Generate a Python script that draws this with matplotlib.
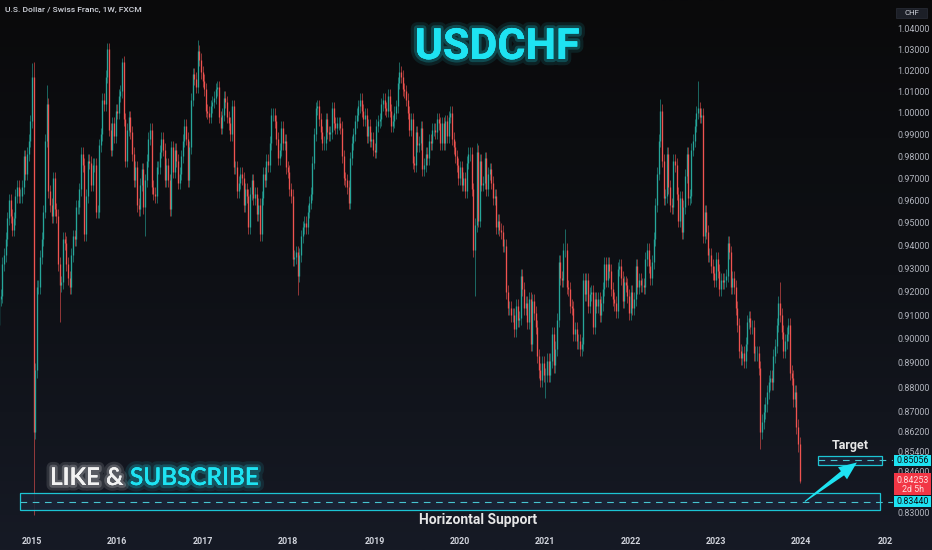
import numpy as np
import pandas as pd
import matplotlib
matplotlib.use('Agg')
import matplotlib.pyplot as plt
import matplotlib.dates as mdates
from matplotlib import patheffects as pe
from matplotlib.colors import LinearSegmentedColormap
from matplotlib.patches import Rectangle, Polygon
from matplotlib.ticker import FixedLocator, FuncFormatter, NullLocator
from matplotlib.transforms import (blended_transform_factory, Bbox,
                                   TransformedBbox, IdentityTransform)

# ---- data: USDCHF weekly closes, bars start on Mondays ----
first_week = '2014-08-11'
first_open = 0.8990

close_2014 = [0.9060, 0.9170, 0.9180, 0.9320, 0.9360, 0.9430, 0.9520, 0.9600,
              0.9530, 0.9470, 0.9520, 0.9620, 0.9660, 0.9620, 0.9620, 0.9660,
              0.9800, 0.9720, 0.9810, 0.9870, 0.9960]
close_2015 = [1.0170, 0.8620, 0.8870, 0.9220, 0.9220, 0.9350, 0.9430, 0.9550,
              0.9870, 1.0040, 0.9640, 0.9580, 0.9530, 0.9700, 0.9560, 0.9530,
              0.9320, 0.9230, 0.9240, 0.9430, 0.9410, 0.9320, 0.9260, 0.9220,
              0.9360, 0.9440, 0.9430, 0.9570, 0.9570, 0.9650, 0.9810, 0.9760,
              0.9450, 0.9620, 0.9780, 0.9770, 0.9670, 0.9760, 0.9760, 0.9550,
              0.9550, 0.9850, 0.9900, 1.0060, 1.0040, 1.0170, 1.0300, 0.9920,
              0.9830, 0.9950, 0.9890, 1.0010]
close_2016 = [1.0000, 1.0080, 1.0100, 1.0240, 0.9970, 0.9780, 0.9920, 0.9980,
              0.9910, 0.9810, 0.9690, 0.9750, 0.9580, 0.9560, 0.9670, 0.9740,
              0.9570, 0.9690, 0.9780, 0.9880, 0.9920, 0.9660, 0.9630, 0.9620,
              0.9750, 0.9750, 0.9820, 0.9880, 0.9830, 0.9690, 0.9760, 0.9690,
              0.9560, 0.9840, 0.9730, 0.9830, 0.9780, 0.9680, 0.9720, 0.9800,
              0.9870, 0.9940, 0.9880, 0.9690, 0.9840, 1.0060, 1.0180, 1.0160,
              1.0120, 1.0290, 1.0250, 1.0190]
close_2017 = [1.0150, 1.0110, 1.0010, 1.0000, 0.9980, 1.0030, 1.0050, 1.0070,
              1.0110, 1.0120, 0.9980, 0.9930, 0.9990, 1.0070, 1.0050, 0.9980,
              0.9950, 0.9900, 1.0030, 0.9750, 0.9750, 0.9640, 0.9680, 0.9720,
              0.9700, 0.9580, 0.9650, 0.9620, 0.9480, 0.9630, 0.9690, 0.9610,
              0.9630, 0.9540, 0.9580, 0.9450, 0.9610, 0.9720, 0.9690, 0.9780,
              0.9760, 0.9860, 0.9990, 0.9990, 0.9960, 0.9880, 0.9790, 0.9830,
              0.9930, 0.9860, 0.9870, 0.9750]
close_2018 = [0.9730, 0.9650, 0.9620, 0.9340, 0.9350, 0.9370, 0.9270, 0.9360,
              0.9440, 0.9480, 0.9500, 0.9480, 0.9550, 0.9590, 0.9630, 0.9770,
              0.9900, 1.0020, 1.0030, 0.9970, 0.9910, 0.9860, 0.9860, 0.9970,
              0.9910, 0.9900, 0.9910, 1.0020, 0.9950, 0.9930, 0.9950, 0.9950,
              0.9930, 0.9800, 0.9700, 0.9690, 0.9660, 0.9590, 0.9790, 0.9860,
              0.9900, 0.9960, 0.9990, 1.0030, 1.0060, 1.0010, 0.9970, 0.9990,
              0.9890, 0.9940, 0.9870, 0.9880, 0.9830]
close_2019 = [0.9820, 0.9940, 0.9960, 0.9970, 1.0040, 1.0060, 1.0020, 1.0010,
              1.0080, 1.0010, 0.9940, 0.9960, 1.0000, 1.0030, 1.0140, 1.0190,
              1.0170, 1.0110, 1.0100, 1.0060, 1.0000, 0.9920, 0.9970, 0.9770,
              0.9760, 0.9910, 0.9850, 0.9860, 0.9930, 0.9740, 0.9760, 0.9810,
              0.9790, 0.9870, 0.9860, 0.9920, 0.9920, 0.9910, 0.9970, 0.9950,
              0.9860, 0.9950, 0.9860, 0.9960, 0.9890, 0.9980, 1.0000, 0.9880,
              0.9840, 0.9800, 0.9760, 0.9700]
close_2020 = [0.9750, 0.9670, 0.9700, 0.9640, 0.9770, 0.9810, 0.9810, 0.9650,
              0.9380, 0.9490, 0.9820, 0.9510, 0.9780, 0.9670, 0.9680, 0.9790,
              0.9650, 0.9720, 0.9740, 0.9680, 0.9610, 0.9620, 0.9480, 0.9510,
              0.9470, 0.9460, 0.9400, 0.9400, 0.9200, 0.9130, 0.9130, 0.9100,
              0.9100, 0.9040, 0.9140, 0.9080, 0.9090, 0.9270, 0.9210, 0.9130,
              0.9150, 0.9070, 0.9170, 0.8980, 0.9160, 0.9110, 0.9050, 0.8930,
              0.8870, 0.8830, 0.8900, 0.8850]
close_2021 = [0.8850, 0.8910, 0.8850, 0.8910, 0.9020, 0.8890, 0.8960, 0.9080,
              0.9330, 0.9260, 0.9250, 0.9380, 0.9380, 0.9220, 0.9210, 0.9140,
              0.9130, 0.9020, 0.9040, 0.8990, 0.8990, 0.8960, 0.8980, 0.9250,
              0.9190, 0.9250, 0.9140, 0.9190, 0.9200, 0.9050, 0.9170, 0.9140,
              0.9170, 0.9100, 0.9150, 0.9210, 0.9320, 0.9250, 0.9320, 0.9290,
              0.9210, 0.9170, 0.9150, 0.9120, 0.9300, 0.9310, 0.9260, 0.9160,
              0.9240, 0.9230, 0.9180, 0.9110]
close_2022 = [0.9200, 0.9130, 0.9170, 0.9310, 0.9220, 0.9250, 0.9230, 0.9230,
              0.9220, 0.9340, 0.9380, 0.9310, 0.9260, 0.9330, 0.9430, 0.9580,
              0.9720, 0.9870, 1.0010, 0.9780, 0.9610, 0.9620, 0.9810, 0.9660,
              0.9580, 0.9570, 0.9780, 0.9760, 0.9630, 0.9510, 0.9610, 0.9460,
              0.9570, 0.9710, 0.9810, 0.9610, 0.9620, 0.9830, 0.9870, 0.9940,
              1.0000, 1.0020, 0.9980, 0.9990, 0.9440, 0.9550, 0.9460, 0.9360,
              0.9360, 0.9310, 0.9280, 0.9250]
close_2023 = [0.9340, 0.9290, 0.9210, 0.9250, 0.9240, 0.9250, 0.9270, 0.9410,
              0.9370, 0.9220, 0.9260, 0.9220, 0.9130, 0.9060, 0.8950, 0.8920,
              0.8940, 0.8910, 0.8980, 0.9070, 0.9090, 0.9050, 0.9050, 0.8940,
              0.8940, 0.8940, 0.8880, 0.8620, 0.8660, 0.8700, 0.8730, 0.8780,
              0.8820, 0.8840, 0.8820, 0.8930, 0.8970, 0.9060, 0.9150, 0.9100,
              0.9030, 0.8950, 0.8990, 0.9020, 0.9060, 0.8860, 0.8840, 0.8750,
              0.8780, 0.8640, 0.8570, 0.8425]

closes = (close_2014 + close_2015 + close_2016 + close_2017 + close_2018 +
          close_2019 + close_2020 + close_2021 + close_2022 + close_2023)

# notable wick extremes
wick_highs = {'2015-01-05': 1.0235, '2015-01-12': 1.0240, '2015-03-09': 1.0128,
              '2015-11-23': 1.0328, '2016-01-25': 1.0257, '2016-12-12': 1.0344,
              '2019-04-22': 1.0237, '2020-03-16': 0.9860, '2021-03-29': 0.9473,
              '2022-05-09': 1.0064, '2022-10-17': 1.0148, '2023-10-02': 0.9244}
wick_lows = {'2015-01-12': 0.8290, '2015-05-04': 0.9072, '2016-05-02': 0.9444,
             '2018-02-12': 0.9187, '2020-03-09': 0.9182, '2021-01-04': 0.8757,
             '2023-07-10': 0.8552, '2023-12-25': 0.8415}
wick_pad = 0.003

price_ticks = [1.04, 1.03, 1.02, 1.01, 1.00, 0.99, 0.98, 0.97, 0.96, 0.95,
               0.94, 0.93, 0.92, 0.91, 0.90, 0.89, 0.88, 0.87, 0.862, 0.854,
               0.846, 0.83]
year_labels = list(range(2015, 2026))

support_price = 0.83440
support_band = (0.8311, 0.8377)
support_span = ('2014-11-15', '2024-12-03')
support_label_at = '2020-03-22'
target_price = 0.85056
target_band = (0.8487, 0.8522)
target_span = ('2024-03-12', '2024-12-10')
arrow_from = ('2024-01-16', 0.8344)
arrow_to = ('2024-08-25', 0.8497)
last_price = 0.84253
countdown = '2d 5h'

# ---- style ----
UP = '#26a69a'
DOWN = '#ef5350'
CYAN = '#1ee3f2'
TXT = '#b2b5be'
W, H = 932, 550
SCALE_FS = 6.4

fig = plt.figure(figsize=(W / 100, H / 100), dpi=100)

bg = fig.add_axes([0, 0, 1, 1], zorder=-1)
cmap = LinearSegmentedColormap.from_list('bg', ['#0a0a0b', '#0e1015', '#161a25'])
bg.imshow(np.linspace(0, 1, 256)[:, None], cmap=cmap, aspect='auto', extent=[0, 1, 0, 1])
bg.axis('off')

ax = fig.add_axes([0, 20 / H, 893 / W, 530 / H])
ax.set_facecolor('none')
for s in ax.spines.values():
    s.set_visible(False)

dates = pd.date_range(first_week, periods=len(closes), freq='W-MON')
x = mdates.date2num(dates)
opens = [first_open] + closes[:-1]
highs, lows, cols = [], [], []
for d, o, c in zip(dates, opens, closes):
    k = d.strftime('%Y-%m-%d')
    highs.append(wick_highs.get(k, max(o, c) + wick_pad))
    lows.append(wick_lows.get(k, min(o, c) - wick_pad))
    cols.append(UP if c >= o else DOWN)
body_lo = np.minimum(opens, closes)
body_hi = np.maximum(opens, closes)

ax.vlines(x, lows, highs, colors=cols, lw=0.55, alpha=0.75, zorder=2)
ax.vlines(x, body_lo, body_hi, colors=cols, lw=0.95, zorder=3)

ax.set_yscale('log')
ax.set_ylim(0.8234, 1.0539)
ax.set_xlim(mdates.date2num(pd.Timestamp('2014-08-22')),
            mdates.date2num(pd.Timestamp('2025-01-26')))
ax.yaxis.set_major_locator(FixedLocator(price_ticks))
ax.yaxis.set_minor_locator(NullLocator())
ax.yaxis.set_major_formatter(FuncFormatter(lambda v, _: f'{v:.5f}'))
ax.yaxis.tick_right()
ax.tick_params(axis='y', length=0, pad=3.2, labelsize=SCALE_FS, labelcolor=TXT)
for lbl in ax.get_yticklabels():
    lbl.set_family('Roboto')
ax.set_xticks([])

# year labels on the time axis, clipped by the price scale
clip = TransformedBbox(Bbox.from_bounds(0, 0, 893 / W, 1), fig.transFigure)
xt = blended_transform_factory(ax.transData, fig.transFigure)
for yr in year_labels:
    d0 = pd.date_range(f'{yr}-01-01', periods=1, freq='W-MON')[0]
    t = fig.text(mdates.date2num(d0), 1 - 541.5 / H, str(yr), transform=xt,
                 ha='center', va='center', fontsize=SCALE_FS, weight='bold',
                 family='Roboto', color='#d1d4dc')
    t.set_clip_box(clip)
    t.set_clip_on(True)

# ---- drawings ----
def band(span, lohi):
    x0, x1 = (mdates.date2num(pd.Timestamp(s)) for s in span)
    ax.add_patch(Rectangle((x0, lohi[0]), x1 - x0, lohi[1] - lohi[0],
                           fc='#1a2438', ec=CYAN, lw=0.9, alpha=0.85, zorder=4))
    return x0, x1

sx0, sx1 = band(support_span, support_band)
tx0, tx1 = band(target_span, target_band)
xmax = ax.get_xlim()[1]
for x0, p in [(sx0, support_price), (tx0, target_price)]:
    ax.plot([x0, xmax], [p, p], color='#47c4d0', lw=0.8, dashes=(6, 5), zorder=5)

ax.annotate('Horizontal Support', xy=(mdates.date2num(pd.Timestamp(support_label_at)), support_band[0]),
            xytext=(0, -3), textcoords='offset pixels', ha='center', va='top',
            fontsize=10, weight='bold', family='Roboto', color='#e6e6e6', zorder=6)
ax.annotate('Target', xy=((tx0 + tx1) / 2, target_band[1]), xytext=(0, 4),
            textcoords='offset pixels', ha='center', va='bottom',
            fontsize=9, weight='bold', family='Roboto', color='#e6e6e6',
            annotation_clip=False, zorder=6)

# tapered arrow from support to target (built in pixels)
A = ax.transData.transform((mdates.date2num(pd.Timestamp(arrow_from[0])), arrow_from[1]))
B = ax.transData.transform((mdates.date2num(pd.Timestamp(arrow_to[0])), arrow_to[1]))
u = (B - A) / np.hypot(*(B - A))
n = np.array([-u[1], u[0]])
L = np.hypot(*(B - A))
hl, hw, sw, tw = 18, 7.5, 2.6, 0.5
base = A + u * (L - hl)
pts = [A + n * tw, base + n * sw, base + n * hw, B, base - n * hw, base - n * sw, A - n * tw]
ax.add_patch(Polygon(pts, closed=True, fc=CYAN, ec='none',
                     transform=IdentityTransform(), zorder=7))

# ---- price scale tags ----
def ypix(p):
    return ax.transData.transform((0, p))[1]

def tag(p, text, fc, tc, h=10.5):
    y = ypix(p)
    fig.add_artist(Rectangle((894, y - h / 2), 37, h, fc=fc, ec='none',
                             transform=IdentityTransform(), zorder=5))
    fig.text(912.5, y, text, transform=IdentityTransform(), ha='center', va='center',
             fontsize=SCALE_FS, family='Roboto', color=tc, zorder=6)

tag(target_price, f'{target_price:.5f}', CYAN, '#0c0f14')
tag(support_price, f'{support_price:.5f}', CYAN, '#0c0f14')
yl = ypix(last_price)
fig.add_artist(Rectangle((894, yl - 14.4), 37, 22, fc='#f23645', ec='none',
                         transform=IdentityTransform(), zorder=5))
fig.text(912.5, yl, f'{last_price:.5f}', transform=IdentityTransform(), ha='center',
         va='center', fontsize=SCALE_FS, family='Roboto', color='#ffe0e0', zorder=6)
fig.text(912.5, yl - 9, countdown, transform=IdentityTransform(), ha='center',
         va='center', fontsize=SCALE_FS, family='Roboto', color='#ffe0e0', zorder=6)

fig.add_artist(Rectangle((896, H - 18), 31, 10, fc='#1c1f27', ec='#2a2e39', lw=0.5,
                         transform=IdentityTransform(), zorder=5))
fig.text(911.5, H - 13, 'CHF', transform=IdentityTransform(), ha='center', va='center',
         fontsize=5.6, family='Roboto', color='#d1d4dc', zorder=6)

# ---- titles ----
fig.text(5 / W, 1 - 10 / H, 'U.S. Dollar / Swiss Franc, 1W, FXCM', ha='left', va='center',
         fontsize=6.1, weight='medium', family='Roboto', color='#d1d4dc')

glow_c = [pe.withStroke(linewidth=9, foreground=CYAN, alpha=0.10),
          pe.withStroke(linewidth=4.5, foreground=CYAN, alpha=0.22), pe.Normal()]
glow_w = [pe.withStroke(linewidth=8, foreground='white', alpha=0.12),
          pe.withStroke(linewidth=4, foreground='white', alpha=0.20), pe.Normal()]

fig.text(497 / W, 1 - 59 / H, 'USDCHF', ha='center', va='baseline', fontsize=31,
         weight='bold', family='Roboto', color=CYAN, path_effects=glow_c)
fig.text(50 / W, 1 - 485 / H, 'LIKE &', ha='left', va='baseline', fontsize=17.5,
         weight='semibold', family='Lato', color='#f2f2f2', path_effects=glow_w)
fig.text(130 / W, 1 - 485 / H, 'SUBSCRIBE', ha='left', va='baseline', fontsize=17.5,
         weight='semibold', family='Lato', color=CYAN, path_effects=glow_c)

fig.savefig('out.png', dpi=100, facecolor='#0a0a0b')
